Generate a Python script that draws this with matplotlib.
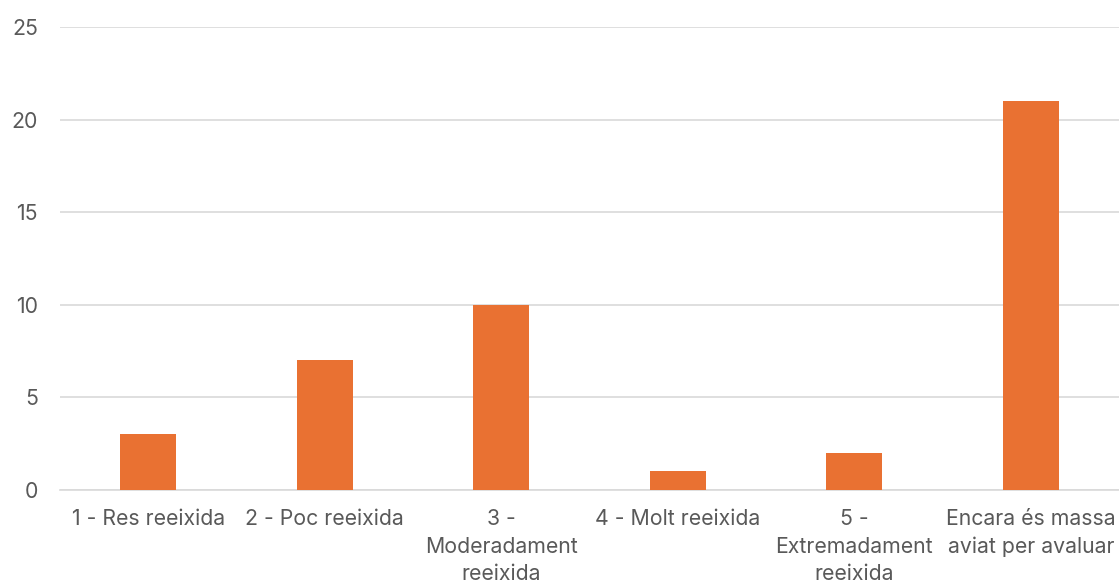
import matplotlib

matplotlib.use("Agg")
import matplotlib.pyplot as plt

categories = [
    "1 - Res reeixida",
    "2 - Poc reeixida",
    "3 -\nModeradament\nreeixida",
    "4 - Molt reeixida",
    "5 -\nExtremadament\nreeixida",
    "Encara és massa\naviat per avaluar",
]
counts = [3, 7, 10, 1, 2, 21]
y_ticks = [0, 5, 10, 15, 20, 25]

BAR_COLOR = "#E97132"
GRID_COLOR = "#D9D9D9"
TEXT_COLOR = "#595959"

plt.rcParams["font.family"] = ["Inter", "DejaVu Sans"]

fig = plt.figure(figsize=(11.19, 5.88), dpi=100)
ax = fig.add_axes([60 / 1119, 1 - 490 / 588, 1059 / 1119, 463 / 588])

x = range(len(categories))
ax.bar(x, counts, width=0.317, color=BAR_COLOR, zorder=3)

ax.set_xlim(-0.5, len(categories) - 0.5)
ax.set_ylim(0, 25)
ax.set_yticks(y_ticks)
ax.set_xticks(list(x))
ax.set_xticklabels(categories, linespacing=1.45)

ax.yaxis.grid(True, color=GRID_COLOR, linewidth=1.2, zorder=0)
for side in ("top", "right", "left"):
    ax.spines[side].set_visible(False)
ax.spines["bottom"].set_color(GRID_COLOR)
ax.spines["bottom"].set_linewidth(1.2)

ax.tick_params(axis="both", length=0, labelsize=15.3, labelcolor=TEXT_COLOR)
ax.tick_params(axis="y", pad=16)
ax.tick_params(axis="x", pad=14)

fig.savefig("out.png", dpi=100)
